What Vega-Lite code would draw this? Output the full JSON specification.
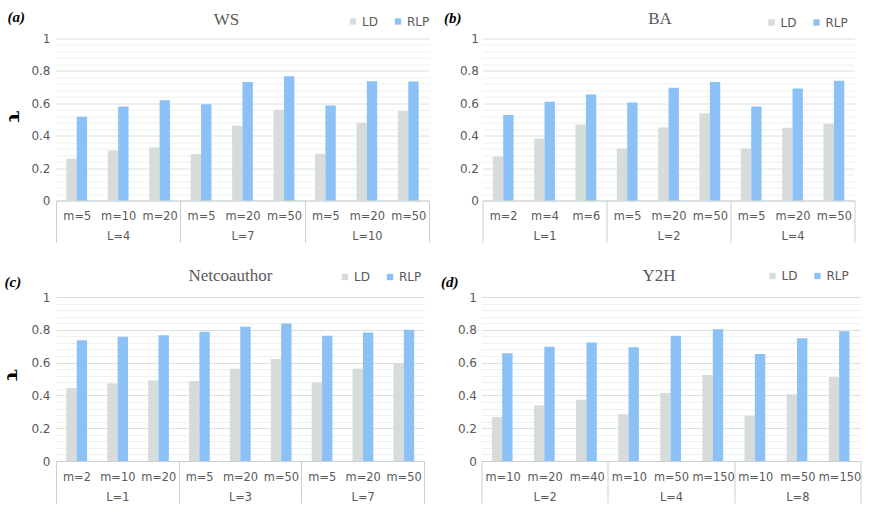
{
  "$schema": "https://vega.github.io/schema/vega-lite/v6.json",
  "padding": {"left": 2, "top": 9.5, "right": 5, "bottom": 5},
  "datasets": {
    "a": [
      {"L": "L=4", "m": "m=5", "cat": "L=4|m=5", "series": "LD", "value": 0.258},
      {"L": "L=4", "m": "m=5", "cat": "L=4|m=5", "series": "RLP", "value": 0.517},
      {"L": "L=4", "m": "m=10", "cat": "L=4|m=10", "series": "LD", "value": 0.309},
      {"L": "L=4", "m": "m=10", "cat": "L=4|m=10", "series": "RLP", "value": 0.581},
      {"L": "L=4", "m": "m=20", "cat": "L=4|m=20", "series": "LD", "value": 0.328},
      {"L": "L=4", "m": "m=20", "cat": "L=4|m=20", "series": "RLP", "value": 0.619},
      {"L": "L=7", "m": "m=5", "cat": "L=7|m=5", "series": "LD", "value": 0.287},
      {"L": "L=7", "m": "m=5", "cat": "L=7|m=5", "series": "RLP", "value": 0.594},
      {"L": "L=7", "m": "m=20", "cat": "L=7|m=20", "series": "LD", "value": 0.462},
      {"L": "L=7", "m": "m=20", "cat": "L=7|m=20", "series": "RLP", "value": 0.732},
      {"L": "L=7", "m": "m=50", "cat": "L=7|m=50", "series": "LD", "value": 0.559},
      {"L": "L=7", "m": "m=50", "cat": "L=7|m=50", "series": "RLP", "value": 0.767},
      {"L": "L=10", "m": "m=5", "cat": "L=10|m=5", "series": "LD", "value": 0.289},
      {"L": "L=10", "m": "m=5", "cat": "L=10|m=5", "series": "RLP", "value": 0.586},
      {"L": "L=10", "m": "m=20", "cat": "L=10|m=20", "series": "LD", "value": 0.48},
      {"L": "L=10", "m": "m=20", "cat": "L=10|m=20", "series": "RLP", "value": 0.736},
      {"L": "L=10", "m": "m=50", "cat": "L=10|m=50", "series": "LD", "value": 0.553},
      {"L": "L=10", "m": "m=50", "cat": "L=10|m=50", "series": "RLP", "value": 0.734}
    ],
    "b": [
      {"L": "L=1", "m": "m=2", "cat": "L=1|m=2", "series": "LD", "value": 0.271},
      {"L": "L=1", "m": "m=2", "cat": "L=1|m=2", "series": "RLP", "value": 0.528},
      {"L": "L=1", "m": "m=4", "cat": "L=1|m=4", "series": "LD", "value": 0.383},
      {"L": "L=1", "m": "m=4", "cat": "L=1|m=4", "series": "RLP", "value": 0.609},
      {"L": "L=1", "m": "m=6", "cat": "L=1|m=6", "series": "LD", "value": 0.468},
      {"L": "L=1", "m": "m=6", "cat": "L=1|m=6", "series": "RLP", "value": 0.654},
      {"L": "L=2", "m": "m=5", "cat": "L=2|m=5", "series": "LD", "value": 0.321},
      {"L": "L=2", "m": "m=5", "cat": "L=2|m=5", "series": "RLP", "value": 0.605},
      {"L": "L=2", "m": "m=20", "cat": "L=2|m=20", "series": "LD", "value": 0.451},
      {"L": "L=2", "m": "m=20", "cat": "L=2|m=20", "series": "RLP", "value": 0.696},
      {"L": "L=2", "m": "m=50", "cat": "L=2|m=50", "series": "LD", "value": 0.538},
      {"L": "L=2", "m": "m=50", "cat": "L=2|m=50", "series": "RLP", "value": 0.731},
      {"L": "L=4", "m": "m=5", "cat": "L=4|m=5", "series": "LD", "value": 0.321},
      {"L": "L=4", "m": "m=5", "cat": "L=4|m=5", "series": "RLP", "value": 0.58},
      {"L": "L=4", "m": "m=20", "cat": "L=4|m=20", "series": "LD", "value": 0.449},
      {"L": "L=4", "m": "m=20", "cat": "L=4|m=20", "series": "RLP", "value": 0.692},
      {"L": "L=4", "m": "m=50", "cat": "L=4|m=50", "series": "LD", "value": 0.474},
      {"L": "L=4", "m": "m=50", "cat": "L=4|m=50", "series": "RLP", "value": 0.739}
    ],
    "c": [
      {"L": "L=1", "m": "m=2", "cat": "L=1|m=2", "series": "LD", "value": 0.445},
      {"L": "L=1", "m": "m=2", "cat": "L=1|m=2", "series": "RLP", "value": 0.737},
      {"L": "L=1", "m": "m=10", "cat": "L=1|m=10", "series": "LD", "value": 0.473},
      {"L": "L=1", "m": "m=10", "cat": "L=1|m=10", "series": "RLP", "value": 0.757},
      {"L": "L=1", "m": "m=20", "cat": "L=1|m=20", "series": "LD", "value": 0.492},
      {"L": "L=1", "m": "m=20", "cat": "L=1|m=20", "series": "RLP", "value": 0.767},
      {"L": "L=3", "m": "m=5", "cat": "L=3|m=5", "series": "LD", "value": 0.488},
      {"L": "L=3", "m": "m=5", "cat": "L=3|m=5", "series": "RLP", "value": 0.788},
      {"L": "L=3", "m": "m=20", "cat": "L=3|m=20", "series": "LD", "value": 0.563},
      {"L": "L=3", "m": "m=20", "cat": "L=3|m=20", "series": "RLP", "value": 0.818},
      {"L": "L=3", "m": "m=50", "cat": "L=3|m=50", "series": "LD", "value": 0.622},
      {"L": "L=3", "m": "m=50", "cat": "L=3|m=50", "series": "RLP", "value": 0.839},
      {"L": "L=7", "m": "m=5", "cat": "L=7|m=5", "series": "LD", "value": 0.478},
      {"L": "L=7", "m": "m=5", "cat": "L=7|m=5", "series": "RLP", "value": 0.763},
      {"L": "L=7", "m": "m=20", "cat": "L=7|m=20", "series": "LD", "value": 0.563},
      {"L": "L=7", "m": "m=20", "cat": "L=7|m=20", "series": "RLP", "value": 0.784},
      {"L": "L=7", "m": "m=50", "cat": "L=7|m=50", "series": "LD", "value": 0.598},
      {"L": "L=7", "m": "m=50", "cat": "L=7|m=50", "series": "RLP", "value": 0.8}
    ],
    "d": [
      {"L": "L=2", "m": "m=10", "cat": "L=2|m=10", "series": "LD", "value": 0.268},
      {"L": "L=2", "m": "m=10", "cat": "L=2|m=10", "series": "RLP", "value": 0.657},
      {"L": "L=2", "m": "m=20", "cat": "L=2|m=20", "series": "LD", "value": 0.339},
      {"L": "L=2", "m": "m=20", "cat": "L=2|m=20", "series": "RLP", "value": 0.697},
      {"L": "L=2", "m": "m=40", "cat": "L=2|m=40", "series": "LD", "value": 0.374},
      {"L": "L=2", "m": "m=40", "cat": "L=2|m=40", "series": "RLP", "value": 0.722},
      {"L": "L=4", "m": "m=10", "cat": "L=4|m=10", "series": "LD", "value": 0.285},
      {"L": "L=4", "m": "m=10", "cat": "L=4|m=10", "series": "RLP", "value": 0.693},
      {"L": "L=4", "m": "m=50", "cat": "L=4|m=50", "series": "LD", "value": 0.415},
      {"L": "L=4", "m": "m=50", "cat": "L=4|m=50", "series": "RLP", "value": 0.764},
      {"L": "L=4", "m": "m=150", "cat": "L=4|m=150", "series": "LD", "value": 0.524},
      {"L": "L=4", "m": "m=150", "cat": "L=4|m=150", "series": "RLP", "value": 0.803},
      {"L": "L=8", "m": "m=10", "cat": "L=8|m=10", "series": "LD", "value": 0.276},
      {"L": "L=8", "m": "m=10", "cat": "L=8|m=10", "series": "RLP", "value": 0.652},
      {"L": "L=8", "m": "m=50", "cat": "L=8|m=50", "series": "LD", "value": 0.407},
      {"L": "L=8", "m": "m=50", "cat": "L=8|m=50", "series": "RLP", "value": 0.748},
      {"L": "L=8", "m": "m=150", "cat": "L=8|m=150", "series": "LD", "value": 0.512},
      {"L": "L=8", "m": "m=150", "cat": "L=8|m=150", "series": "RLP", "value": 0.791}
    ]
  },
  "vconcat": [
    {
      "hconcat": [
        {
          "width": 373, "height": 162,
          "data": {"name": "a"},
          "encoding": {
            "x": {"field": "cat", "type": "nominal", "sort": null,
              "scale": {"paddingInner": 0, "paddingOuter": 0},
              "axis": {"labelAngle": 0, "grid": false, "domainColor": "#c9d1cf", "tickBand": "extent", "tickSize": 42,
                "tickColor": {"condition": {"test": "datum.index < 0 || indexof(['L=4|m=20','L=7|m=50','L=10|m=50'], datum.value) >= 0", "value": "#c9d1cf"}, "value": "rgba(0,0,0,0)"},
                "labelPadding": -32, "labelLineHeight": 20, "labelFontSize": 11.4,
                "labelExpr": "isValid(datum.value) ? (indexof(['L=4|m=10','L=7|m=20','L=10|m=20'], datum.value) >= 0 ? [split(datum.value,'|')[1], split(datum.value,'|')[0]] : split(datum.value,'|')[1]) : ''",
                "title": "WS", "titleX": 170, "titleY": -181, "titleAlign": "center", "titleBaseline": "middle", "titleFont": "Liberation Serif", "titleFontSize": 17, "titleFontWeight": "normal", "titleColor": "#595959"}},
            "xOffset": {"field": "series", "type": "nominal", "sort": ["LD", "RLP"], "scale": {"paddingInner": 0, "paddingOuter": 1}}
          },
          "layer": [
            {
              "mark": {"type": "bar"},
              "encoding": {
                "y": {"field": "value", "type": "quantitative", "scale": {"domain": [0, 1]},
                  "axis": {"orient": "left", "values": [0, 0.2, 0.4, 0.6, 0.8, 1], "format": "~g", "grid": true, "gridColor": "#d9e0de", "domain": false, "ticks": false, "tickSize": 0, "labelPadding": 6,
                    "title": "τ", "titleX": -42, "titleY": 78, "titleAngle": 90, "titleAlign": "center", "titleBaseline": "middle", "titleFont": "DejaVu Serif", "titleFontSize": 19, "titleFontWeight": "bold", "titleColor": "#000000"}},
                "color": {"field": "series", "type": "nominal", "scale": {"domain": ["LD", "RLP"], "range": ["#d5dcda", "#8bc1f4"]},
                  "legend": {"legendX": 291, "legendY": -23}}
              }
            },
            {
              "mark": {"type": "bar", "opacity": 0},
              "encoding": {
                "y": {"field": "value", "type": "quantitative",
                  "axis": {"orient": "left", "values": [0.04, 0.08, 0.12, 0.16, 0.24, 0.28, 0.32, 0.36, 0.44, 0.48, 0.52, 0.56, 0.64, 0.68, 0.72, 0.76, 0.84, 0.88, 0.92, 0.96], "grid": true, "gridColor": "#eef1f0", "labels": false, "domain": false, "ticks": false, "tickSize": 0,
                    "title": "(a)", "titleX": -49, "titleY": -22, "titleAngle": 0, "titleAlign": "left", "titleBaseline": "middle", "titleFont": "Liberation Serif", "titleFontSize": 15, "titleFontStyle": "italic", "titleFontWeight": "bold", "titleColor": "#000000"}}
              }
            }
          ],
          "resolve": {"axis": {"y": "independent"}}
        },
        {
          "width": 372, "height": 162,
          "data": {"name": "b"},
          "encoding": {
            "x": {"field": "cat", "type": "nominal", "sort": null,
              "scale": {"paddingInner": 0, "paddingOuter": 0},
              "axis": {"labelAngle": 0, "grid": false, "domainColor": "#c9d1cf", "tickBand": "extent", "tickSize": 42,
                "tickColor": {"condition": {"test": "datum.index < 0 || indexof(['L=1|m=6','L=2|m=50','L=4|m=50'], datum.value) >= 0", "value": "#c9d1cf"}, "value": "rgba(0,0,0,0)"},
                "labelPadding": -32, "labelLineHeight": 20, "labelFontSize": 11.4,
                "labelExpr": "isValid(datum.value) ? (indexof(['L=1|m=4','L=2|m=20','L=4|m=20'], datum.value) >= 0 ? [split(datum.value,'|')[1], split(datum.value,'|')[0]] : split(datum.value,'|')[1]) : ''",
                "title": "BA", "titleX": 177, "titleY": -182, "titleAlign": "center", "titleBaseline": "middle", "titleFont": "Liberation Serif", "titleFontSize": 17, "titleFontWeight": "normal", "titleColor": "#595959"}},
            "xOffset": {"field": "series", "type": "nominal", "sort": ["LD", "RLP"], "scale": {"paddingInner": 0, "paddingOuter": 1}}
          },
          "layer": [
            {
              "mark": {"type": "bar"},
              "encoding": {
                "y": {"field": "value", "type": "quantitative", "scale": {"domain": [0, 1]},
                  "axis": {"orient": "left", "values": [0, 0.2, 0.4, 0.6, 0.8, 1], "format": "~g", "grid": true, "gridColor": "#d9e0de", "domain": false, "ticks": false, "tickSize": 0, "labelPadding": 4, "title": null}},
                "color": {"field": "series", "type": "nominal", "scale": {"domain": ["LD", "RLP"], "range": ["#d5dcda", "#8bc1f4"]},
                  "legend": {"legendX": 283, "legendY": -22}}
              }
            },
            {
              "mark": {"type": "bar", "opacity": 0},
              "encoding": {
                "y": {"field": "value", "type": "quantitative",
                  "axis": {"orient": "left", "values": [0.04, 0.08, 0.12, 0.16, 0.24, 0.28, 0.32, 0.36, 0.44, 0.48, 0.52, 0.56, 0.64, 0.68, 0.72, 0.76, 0.84, 0.88, 0.92, 0.96], "grid": true, "gridColor": "#eef1f0", "labels": false, "domain": false, "ticks": false, "tickSize": 0,
                    "title": "(b)", "titleX": -39, "titleY": -21, "titleAngle": 0, "titleAlign": "left", "titleBaseline": "middle", "titleFont": "Liberation Serif", "titleFontSize": 15, "titleFontStyle": "italic", "titleFontWeight": "bold", "titleColor": "#000000"}}
              }
            }
          ],
          "resolve": {"axis": {"y": "independent"}}
        }
      ],
      "spacing": 13.5,
      "resolve": {"scale": {"color": "independent"}}
    },
    {
      "hconcat": [
        {
          "width": 368, "height": 164,
          "data": {"name": "c"},
          "encoding": {
            "x": {"field": "cat", "type": "nominal", "sort": null,
              "scale": {"paddingInner": 0, "paddingOuter": 0},
              "axis": {"labelAngle": 0, "grid": false, "domainColor": "#c9d1cf", "tickBand": "extent", "tickSize": 42,
                "tickColor": {"condition": {"test": "datum.index < 0 || indexof(['L=1|m=20','L=3|m=50','L=7|m=50'], datum.value) >= 0", "value": "#c9d1cf"}, "value": "rgba(0,0,0,0)"},
                "labelPadding": -32, "labelLineHeight": 20, "labelFontSize": 11.4,
                "labelExpr": "isValid(datum.value) ? (indexof(['L=1|m=10','L=3|m=20','L=7|m=20'], datum.value) >= 0 ? [split(datum.value,'|')[1], split(datum.value,'|')[0]] : split(datum.value,'|')[1]) : ''",
                "title": "Netcoauthor", "titleX": 174, "titleY": -186, "titleAlign": "center", "titleBaseline": "middle", "titleFont": "Liberation Serif", "titleFontSize": 17, "titleFontWeight": "normal", "titleColor": "#595959"}},
            "xOffset": {"field": "series", "type": "nominal", "sort": ["LD", "RLP"], "scale": {"paddingInner": 0, "paddingOuter": 1}}
          },
          "layer": [
            {
              "mark": {"type": "bar"},
              "encoding": {
                "y": {"field": "value", "type": "quantitative", "scale": {"domain": [0, 1]},
                  "axis": {"orient": "left", "values": [0, 0.2, 0.4, 0.6, 0.8, 1], "format": "~g", "grid": true, "gridColor": "#d9e0de", "domain": false, "ticks": false, "tickSize": 0, "labelPadding": 6,
                    "title": "τ", "titleX": -44, "titleY": 78, "titleAngle": 90, "titleAlign": "center", "titleBaseline": "middle", "titleFont": "DejaVu Serif", "titleFontSize": 19, "titleFontWeight": "bold", "titleColor": "#000000"}},
                "color": {"field": "series", "type": "nominal", "scale": {"domain": ["LD", "RLP"], "range": ["#d5dcda", "#8bc1f4"]},
                  "legend": {"legendX": 283, "legendY": -26}}
              }
            },
            {
              "mark": {"type": "bar", "opacity": 0},
              "encoding": {
                "y": {"field": "value", "type": "quantitative",
                  "axis": {"orient": "left", "values": [0.04, 0.08, 0.12, 0.16, 0.24, 0.28, 0.32, 0.36, 0.44, 0.48, 0.52, 0.56, 0.64, 0.68, 0.72, 0.76, 0.84, 0.88, 0.92, 0.96], "grid": true, "gridColor": "#eef1f0", "labels": false, "domain": false, "ticks": false, "tickSize": 0,
                    "title": "(c)", "titleX": -52, "titleY": -16, "titleAngle": 0, "titleAlign": "left", "titleBaseline": "middle", "titleFont": "Liberation Serif", "titleFontSize": 15, "titleFontStyle": "italic", "titleFontWeight": "bold", "titleColor": "#000000"}}
              }
            }
          ],
          "resolve": {"axis": {"y": "independent"}}
        },
        {
          "width": 379, "height": 164,
          "data": {"name": "d"},
          "encoding": {
            "x": {"field": "cat", "type": "nominal", "sort": null,
              "scale": {"paddingInner": 0, "paddingOuter": 0},
              "axis": {"labelAngle": 0, "grid": false, "domainColor": "#c9d1cf", "tickBand": "extent", "tickSize": 42,
                "tickColor": {"condition": {"test": "datum.index < 0 || indexof(['L=2|m=40','L=4|m=150','L=8|m=150'], datum.value) >= 0", "value": "#c9d1cf"}, "value": "rgba(0,0,0,0)"},
                "labelPadding": -32, "labelLineHeight": 20, "labelFontSize": 11.4,
                "labelExpr": "isValid(datum.value) ? (indexof(['L=2|m=20','L=4|m=50','L=8|m=50'], datum.value) >= 0 ? [split(datum.value,'|')[1], split(datum.value,'|')[0]] : split(datum.value,'|')[1]) : ''",
                "title": "Y2H", "titleX": 177, "titleY": -186, "titleAlign": "center", "titleBaseline": "middle", "titleFont": "Liberation Serif", "titleFontSize": 17, "titleFontWeight": "normal", "titleColor": "#595959"}},
            "xOffset": {"field": "series", "type": "nominal", "sort": ["LD", "RLP"], "scale": {"paddingInner": 0, "paddingOuter": 1}}
          },
          "layer": [
            {
              "mark": {"type": "bar"},
              "encoding": {
                "y": {"field": "value", "type": "quantitative", "scale": {"domain": [0, 1]},
                  "axis": {"orient": "left", "values": [0, 0.2, 0.4, 0.6, 0.8, 1], "format": "~g", "grid": true, "gridColor": "#d9e0de", "domain": false, "ticks": false, "tickSize": 0, "labelPadding": 5, "title": null}},
                "color": {"field": "series", "type": "nominal", "scale": {"domain": ["LD", "RLP"], "range": ["#d5dcda", "#8bc1f4"]},
                  "legend": {"legendX": 285, "legendY": -27}}
              }
            },
            {
              "mark": {"type": "bar", "opacity": 0},
              "encoding": {
                "y": {"field": "value", "type": "quantitative",
                  "axis": {"orient": "left", "values": [0.04, 0.08, 0.12, 0.16, 0.24, 0.28, 0.32, 0.36, 0.44, 0.48, 0.52, 0.56, 0.64, 0.68, 0.72, 0.76, 0.84, 0.88, 0.92, 0.96], "grid": true, "gridColor": "#eef1f0", "labels": false, "domain": false, "ticks": false, "tickSize": 0,
                    "title": "(d)", "titleX": -41, "titleY": -16, "titleAngle": 0, "titleAlign": "left", "titleBaseline": "middle", "titleFont": "Liberation Serif", "titleFontSize": 15, "titleFontStyle": "italic", "titleFontWeight": "bold", "titleColor": "#000000"}}
              }
            }
          ],
          "resolve": {"axis": {"y": "independent"}}
        }
      ],
      "spacing": 15.5,
      "resolve": {"scale": {"color": "independent"}}
    }
  ],
  "spacing": 22.5,
  "resolve": {"scale": {"color": "independent"}},
  "config": {
    "view": {"stroke": null},
    "font": "DejaVu Sans",
    "axis": {"labelFont": "DejaVu Sans", "labelFontSize": 12, "labelColor": "#595959"},
    "legend": {"orient": "none", "direction": "horizontal", "title": null, "symbolType": "square", "symbolSize": 40, "symbolStrokeWidth": 0, "labelFont": "DejaVu Sans", "labelFontSize": 12, "labelColor": "#595959", "columnPadding": 14, "padding": 0, "labelOffset": 3}
  }
}
